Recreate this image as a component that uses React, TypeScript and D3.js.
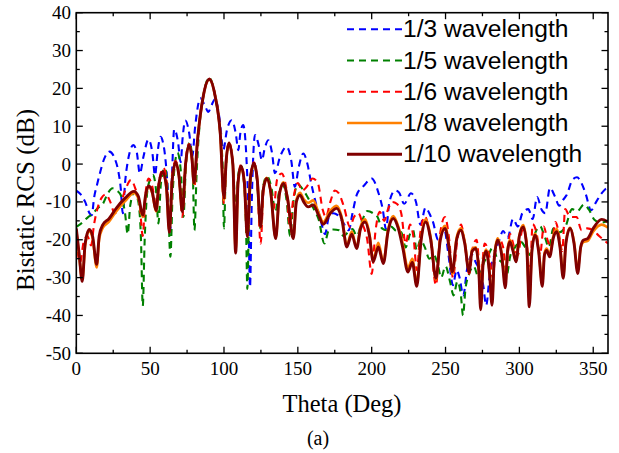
import React, { useEffect, useRef } from "react";
import * as d3 from "d3";

type Pt = [number, number];

// [theta (deg), bistatic RCS (dB)]
const rcsThird: Pt[] = [
  [0, -7], [3, -8], [6, -10], [9, -13], [10.5, -13.5], [12, -9], [14, -5.5], [16, -2.4], [19, 1.5], [22.5, 3.3],
  [26, 1.5], [28.5, -2], [30, -6], [31.5, -13], [33, -5], [35, 1], [38.6, 5], [41, 3], [43, -2.5], [45.5, 2],
  [48.8, 6.5], [51.5, 3], [53.3, -3], [55, 3], [57, 7.2], [59.5, 4], [61.5, -4], [63.5, -18], [64.8, -3], [66.3, 9.2],
  [68.8, 6], [70.7, 0.5], [72, 7], [73.8, 11.5], [76.5, 8], [78.5, 2], [80.5, 10], [84, 17.4], [87, 15.5], [89.4, 13.8],
  [91.5, 15.5], [94, 17.2], [97, 12], [99.5, 3.7], [102, 9], [105.2, 11.6], [108, 8], [109.7, 3.7], [111, 8], [113, 10.3],
  [115, 3], [116.5, -12], [117.6, -32.5], [118.8, -10], [121, 7.7], [123.5, 5], [125.7, 1], [127.5, 4], [130, 6.3], [132.5, 3],
  [134.5, -2.4], [138, 2], [142.4, 4.6], [145.5, 1], [148, -6], [150.5, -1], [153.7, 2.8], [156.5, 0], [159, -5], [162, -10],
  [165, -14], [168.4, -18.5], [171, -14], [174, -13], [177, -13.5], [180, -15], [184.5, -17.5], [187, -13], [190, -8], [195, -5.6],
  [200, -3.8], [204.5, -7.5], [207.5, -12], [209.7, -17.2], [212, -10], [215.8, -7], [218.5, -7.5], [222, -10.5], [226.6, -7.7], [230, -10],
  [233, -16], [236.5, -11.5], [239, -13], [241.5, -15.3], [245, -20], [249, -17], [252, -24], [255, -32], [257.5, -28], [259.5, -30],
  [262, -34.7], [264.5, -28], [268, -24], [270.5, -26], [273, -28], [275.5, -32], [277.5, -37.3], [280, -29], [283, -24], [286, -20.5],
  [289, -17.7], [292, -19.5], [295.7, -14.5], [299, -16.5], [302, -13], [306, -11.9], [309, -14.5], [312, -8.7], [315, -12], [317.5, -13],
  [320.7, -6.3], [324, -8.5], [327, -11], [329.5, -9.5], [332, -8.2], [336, -4.1], [339, -3.5], [342, -5], [345, -8], [348.5, -12.2],
  [352, -10], [355.3, -7.9], [358, -6.7], [360, -6.2],
];

const rcsFifth: Pt[] = [
  [0, -16.6], [4, -15.5], [8, -14], [10, -13.5], [12.5, -12.5], [15, -11.5], [18, -10.5], [21, -8], [24.5, -6.4], [27.5, -7],
  [30.5, -8.5], [33, -13], [34.8, -18.5], [36.5, -11], [39.5, -7.3], [42, -10], [43.8, -20], [45, -37.5], [46.3, -20], [48.5, -6],
  [52, -2.9], [54, -7], [55.6, -15.7], [57.3, -5], [60, -1], [62, -8], [63.7, -24.5], [65.3, -7], [68.5, 3], [70.8, -2],
  [72.5, -14], [74.3, 0], [76.8, 5.7], [78.7, 0], [80, -17.5], [81.5, -2], [83, 8], [86, 18], [90, 22.8], [94, 18],
  [97.5, 8], [99, 0], [100, -17], [101.3, -1], [103.4, 5.5], [106, 0], [108, -12], [109.6, -3], [111.5, -0.5], [113.8, -6],
  [115, -18], [115.8, -33], [116.8, -16], [118.2, -4], [120.3, 0.5], [122.5, -5], [124.6, -17], [126.5, -6], [129, -3.2], [132, -6],
  [134.8, -12.5], [137.5, -7], [140, -5.5], [142.5, -10], [144.7, -19], [147, -10], [150, -5.3], [153, -6.5], [157, -9], [161, -12],
  [164, -14.5], [168, -21], [171, -17.5], [174, -17.3], [178, -17.5], [181, -19], [184, -18], [187, -17.2], [190, -19], [193.5, -15],
  [197, -12.4], [201, -13], [204, -14], [207, -17], [210, -17.5], [213, -16.5], [216, -17.5], [220, -18], [223, -22], [226, -18.4],
  [228, -17.5], [230.5, -22.8], [233, -20], [236, -22], [239, -25], [242, -24], [245, -27], [247, -30], [250, -27], [253, -31],
  [255.5, -34.7], [258, -31], [260.5, -35], [261.8, -40], [263.5, -33], [266, -29], [269, -27], [272.5, -30], [276, -26], [279, -24],
  [282, -22], [285, -25], [288, -26], [291, -30], [294, -24], [297, -22], [301, -20.5], [304, -22], [307, -24], [310, -19],
  [314, -16.4], [317, -19], [320, -22], [323, -17], [327, -18], [331, -16.7], [335.7, -11.9], [339, -12.5], [343.8, -10.7], [347, -12],
  [351, -14.8], [355, -15.5], [360, -15],
];

const rcsSixth: Pt[] = [
  [0, -20], [2.5, -26], [5, -20.5], [7.5, -19], [10, -21.5], [12, -16], [14.5, -11.5], [17, -9], [20, -8], [23, -10],
  [26, -13], [29, -11.5], [33, -7], [37, -4.2], [40, -6.5], [43, -11], [45, -19], [46.8, -8], [49, -3.8], [51.5, -6],
  [54, -11], [56.3, -4], [59, -1], [61.3, -5], [63, -18], [64.8, -3], [67.3, 0.8], [69.5, -3], [71.8, -14], [73.8, 0],
  [76.3, 5.3], [78.2, 1.5], [80, -6], [82, 6], [86, 18], [90, 22.6], [94, 18], [97.5, 8], [100, -10.5], [101.5, 1],
  [103.4, 5.8], [106, 0], [108, -19], [109.6, -4], [111.5, -0.2], [113.8, -4], [116, -18], [118, -3], [120.3, 0.5], [122.5, -5],
  [124.8, -21], [126.8, -7], [129, -4], [131, -6], [133.5, -12], [136, -4], [139, -2.5], [142, -6], [144.5, -16], [147, -9],
  [150, -5], [153, -7], [156, -6], [160, -3.8], [163.5, -5], [166.8, -12], [169, -14], [172, -10], [175, -7], [177.5, -7.6],
  [181, -11], [185.3, -16.6], [188, -14], [191, -13], [194, -16], [197, -20], [200, -29], [202.5, -18], [205.5, -12.6], [208.5, -15],
  [211, -12], [214, -10], [217, -10.5], [220, -13], [223, -21], [226, -16], [228.5, -20], [230.5, -28], [233, -18], [236, -13.8],
  [239.5, -19], [243.5, -32], [246.5, -18], [249.6, -14], [252.5, -20], [255, -30], [258, -20], [260.5, -16], [263, -21], [266, -29],
  [268.5, -22], [271, -20], [273.8, -30], [276.5, -21], [279.5, -24], [282, -30], [284, -22], [286, -19.6], [289, -22], [291, -28],
  [293.6, -18.4], [296.5, -22], [299, -24], [302, -17.5], [305, -21], [307, -30], [309, -15.9], [312, -19], [314, -24], [316.5, -16.5],
  [319, -20], [321.5, -22], [324.5, -15.3], [327, -19], [329, -23], [331, -11.9], [334, -13.8], [336, -14], [338.8, -14], [342, -17.5],
  [346, -17], [350, -17.5], [354, -19], [357, -20], [360, -21],
];

const rcsEighth: Pt[] = [
  [0, -17.5], [2, -24.5], [4, -30.5], [6, -21.5], [8.8, -17.8], [11, -19.5], [13.8, -27.3], [15.5, -19.8], [18, -16.8], [22, -15.3],
  [27, -12.5], [33, -9.8], [39, -7.6], [42, -9], [45, -14], [47, -8.3], [49, -6], [51.5, -7.8], [54, -12.5], [56, -5.3],
  [58.5, -2.2], [61, -6.3], [63, -17.5], [65, -4.2], [67.3, 0.3], [69.5, -3.2], [71.8, -12.3], [74, -0.2], [76.3, 4.8], [78.2, 1.8],
  [79.7, -5.2], [82, 6], [86, 18], [90, 22.3], [94, 18], [97.5, 8], [100, -9.5], [101.5, 1], [103.4, 5.4], [106, 0],
  [107.9, -23], [109.5, -5], [111.5, -0.7], [113.8, -5], [115.8, -19], [117.8, -4], [120.3, 0], [122.5, -4], [124.8, -16.8], [126.5, -7],
  [128.9, -3.6], [131.5, -7], [135, -19.5], [137.5, -8], [140.2, -4.8], [143, -9], [146.9, -19.5], [149, -9.5], [151.5, -7.6], [154, -9.3],
  [157, -10.2], [160.5, -9.6], [164, -12.8], [167.2, -15.3], [172, -12.3], [176.3, -11], [180, -14.5], [183.1, -21.5], [186.5, -17.8], [189.8, -22],
  [192.5, -16.5], [195.5, -14.6], [198.5, -18.5], [201, -25.3], [204.5, -20.8], [207.9, -26], [211, -17.5], [214.6, -13.7], [218, -16.5], [221, -21],
  [224.5, -27.5], [227.5, -25], [230.5, -31.5], [233.5, -19.5], [236.5, -14.6], [240, -19.5], [243.5, -30.5], [246.5, -19.5], [249.6, -16.3], [252, -20.5],
  [254.6, -29], [257.5, -19.5], [260.3, -17], [263, -20.5], [265.9, -28], [268, -22.5], [270.5, -22], [272.5, -27.5], [273.8, -37], [275.5, -25.5],
  [277.5, -22.6], [279.8, -28.5], [281.5, -36], [283, -24.5], [285.3, -19.6], [288, -23.5], [290.5, -31.5], [292, -22.5], [293.6, -20], [295.7, -22.5],
  [297.7, -25.5], [300, -18.8], [302.6, -16.1], [305, -21.5], [306.7, -36], [308.5, -22.5], [310.6, -18.4], [313, -22.5], [315.5, -31.5], [317, -23.5],
  [318.5, -22.3], [320.5, -24], [323, -19], [325.2, -17.2], [327.5, -21.5], [329.7, -29.5], [331.5, -20.5], [334.3, -16.8], [337, -20.5], [339.5, -28],
  [341.5, -22], [343.3, -20.6], [346.2, -20.3], [350, -17.8], [355.7, -16], [360, -16.8],
];

const rcsTenth: Pt[] = [
  [0, -17], [2, -24], [4, -31], [6, -21], [8.8, -17.3], [11, -19], [13.8, -26.5], [15.5, -19], [18, -16], [22, -14.5],
  [27, -11.7], [33, -9], [39, -7.2], [42, -8.5], [45, -13.5], [47, -8], [49, -5.8], [51.5, -7.5], [54, -12.3], [56, -5],
  [58.5, -2], [61, -6], [63, -18], [65, -4], [67.3, 0.5], [69.5, -3], [71.8, -12.6], [74, 0], [76.3, 5], [78.2, 2],
  [79.7, -5], [82, 6], [86, 18], [90, 22.4], [94, 18], [97.5, 8], [100, -9], [101.5, 1], [103.4, 5.6], [106, 0],
  [107.9, -23.5], [109.5, -5], [111.5, -0.5], [113.8, -5], [115.8, -19.2], [117.8, -4], [120.3, 0.2], [122.5, -4], [124.8, -16.6], [126.5, -7],
  [128.9, -3.8], [131.5, -7], [135, -19.7], [137.5, -8], [140.2, -5.1], [143, -9], [146.9, -19.7], [149, -10], [151.5, -8.2], [154, -10],
  [157, -11.3], [160.5, -10.8], [164, -13.5], [167.2, -15.9], [172, -13], [176.3, -11.7], [180, -15], [183.1, -21.9], [186.5, -18.5], [189.8, -22.3],
  [192.5, -17], [195.5, -15.3], [198.5, -19], [201, -25.8], [204.5, -21.9], [207.9, -26.3], [211, -18], [214.6, -14.4], [218, -17], [221, -22],
  [224.5, -28.5], [227.5, -26], [230.5, -32.3], [233.5, -20], [236.5, -15.3], [240, -20], [243.5, -30.2], [246.5, -20], [249.6, -17], [252, -21],
  [254.6, -28.5], [257.5, -20], [260.3, -17.5], [263, -21], [265.9, -28.5], [268, -23], [270.5, -22.3], [272.5, -28], [273.8, -38.5], [275.5, -26],
  [277.5, -23], [279.8, -29], [281.5, -37.3], [283, -25], [285.3, -20.1], [288, -24], [290.5, -32.7], [292, -23], [293.6, -20.5], [295.7, -23],
  [297.7, -25.8], [300, -19], [302.6, -16.6], [305, -22], [306.7, -37.7], [308.5, -23], [310.6, -18.8], [313, -23], [315.5, -32.3], [317, -24],
  [318.5, -22.8], [320.5, -24.5], [323, -19.5], [325.2, -17.9], [327.5, -22], [329.7, -30.2], [331.5, -21], [334.3, -17], [337, -21], [339.5, -28.9],
  [341.5, -22], [343.3, -20.1], [346.2, -19.7], [350, -17], [355.7, -14.6], [360, -15.3],
];

const seriesNames = ["1/3 wavelength", "1/5 wavelength", "1/6 wavelength", "1/8 wavelength", "1/10 wavelength"];
const seriesData = [rcsThird, rcsFifth, rcsSixth, rcsEighth, rcsTenth];
const seriesColors = ["#0000ff", "#008000", "#ff0000", "#ff8000", "#800000"];
const seriesDash = ["7,5", "7,5", "7,5", null, null];
const seriesWidth = [2.1, 2.1, 2.1, 2.6, 2.9];

const xTicks = [0, 50, 100, 150, 200, 250, 300, 350];
const yTicks = [-50, -40, -30, -20, -10, 0, 10, 20, 30, 40];

const App = () => {
  const ref = useRef<SVGSVGElement | null>(null);

  useEffect(() => {
    const svg = d3.select(ref.current);
    svg.selectAll("*").remove();

    const left = 76.3, right = 608, top = 12.7, bottom = 353.3;
    const x = d3.scaleLinear().domain([0, 360]).range([left, right]);
    const y = d3.scaleLinear().domain([-50, 40]).range([bottom, top]);

    svg.append("rect").attr("width", 619).attr("height", 453).attr("fill", "#fff");

    svg.append("clipPath").attr("id", "plot-clip")
      .append("rect").attr("x", left).attr("y", top).attr("width", right - left).attr("height", bottom - top);

    const line = d3.line<Pt>()
      .x((d) => x(d[0]))
      .y((d) => y(d[1]))
      .curve(d3.curveMonotoneX);

    const g = svg.append("g").attr("clip-path", "url(#plot-clip)");
    seriesData.forEach((data, i) => {
      g.append("path")
        .attr("d", line(data))
        .attr("fill", "none")
        .attr("stroke", seriesColors[i])
        .attr("stroke-width", seriesWidth[i])
        .attr("stroke-dasharray", seriesDash[i])
        .attr("stroke-linejoin", "round");
    });

    // frame + ticks on all four sides, pointing inward
    const axis = svg.append("g").attr("stroke", "#000").attr("stroke-width", 1.3);
    d3.range(0, 361, 25).forEach((t) => {
      const len = t % 50 === 0 ? 6.5 : 3.5;
      axis.append("line").attr("x1", x(t)).attr("x2", x(t)).attr("y1", bottom).attr("y2", bottom - len);
      axis.append("line").attr("x1", x(t)).attr("x2", x(t)).attr("y1", top).attr("y2", top + len);
    });
    d3.range(-50, 41, 5).forEach((t) => {
      const len = t % 10 === 0 ? 6.5 : 3.5;
      axis.append("line").attr("y1", y(t)).attr("y2", y(t)).attr("x1", left).attr("x2", left + len);
      axis.append("line").attr("y1", y(t)).attr("y2", y(t)).attr("x1", right).attr("x2", right - len);
    });
    svg.append("rect")
      .attr("x", left).attr("y", top).attr("width", right - left).attr("height", bottom - top)
      .attr("fill", "none").attr("stroke", "#000").attr("stroke-width", 1.6);

    const serif = "'Liberation Serif', 'Times New Roman', serif";
    svg.append("g").selectAll("text").data(xTicks).enter().append("text")
      .attr("x", (d) => x(d)).attr("y", 375)
      .attr("text-anchor", "middle").attr("font-family", serif).attr("font-size", 19)
      .text((d) => d);
    svg.append("g").selectAll("text").data(yTicks).enter().append("text")
      .attr("x", 71).attr("y", (d) => y(d) + 6.5)
      .attr("text-anchor", "end").attr("font-family", serif).attr("font-size", 19)
      .text((d) => d);

    svg.append("text")
      .attr("x", 342).attr("y", 411.5).attr("text-anchor", "middle")
      .attr("font-family", serif).attr("font-size", 24.5)
      .text("Theta (Deg)");
    svg.append("text")
      .attr("transform", "translate(34,200) rotate(-90)").attr("text-anchor", "middle")
      .attr("font-family", serif).attr("font-size", 25)
      .text("Bistatic RCS (dB)");
    svg.append("text")
      .attr("x", 318).attr("y", 444.5).attr("text-anchor", "middle")
      .attr("font-family", serif).attr("font-size", 20)
      .text("(a)");

    // legend
    const lg = svg.append("g");
    seriesNames.forEach((name, i) => {
      const base = 37.3 + i * 31.25;
      lg.append("line")
        .attr("x1", 347).attr("x2", 402).attr("y1", base - 8).attr("y2", base - 8)
        .attr("stroke", seriesColors[i]).attr("stroke-width", seriesWidth[i])
        .attr("stroke-dasharray", seriesDash[i]);
      lg.append("text")
        .attr("x", 403).attr("y", base)
        .attr("font-family", "'Liberation Sans', Arial, sans-serif").attr("font-size", 24.6)
        .text(name);
    });
  }, []);

  return (
    <svg
      ref={ref}
      width={619}
      height={453}
      style={{ position: "absolute", left: 0, top: 0 }}
    />
  );
};

export default App;
